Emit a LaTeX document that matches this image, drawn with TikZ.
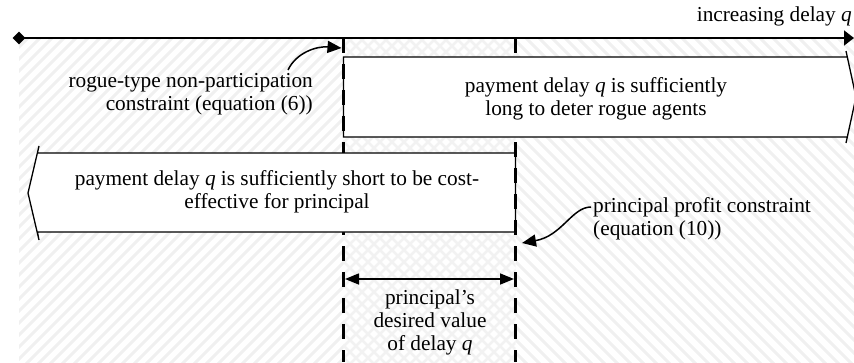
\documentclass[tikz,border=0pt]{standalone}
\usepackage{fontspec}
\setmainfont{Liberation Serif}
\usetikzlibrary{arrows.meta,shapes.geometric}
\begin{document}
\begin{tikzpicture}[x=1pt,y=-1pt,
  hatch/.style={line width=3pt, black!6},
  hatchc/.style={line width=2.5pt, black!5},
  axis/.style={line width=1.6pt},
  boxline/.style={line width=1.3pt, fill=white, line join=miter},
  guide/.style={line width=3pt, dash pattern=on 15pt off 11pt},
  lbl/.style={font=\fontsize{21.3}{23}\selectfont, inner sep=0pt},
  callout/.style={line width=1.5pt, -{Triangle[length=14pt,width=12pt]}},
  span/.style={line width=1.5pt, {Triangle[length=14pt,width=11pt]}-{Triangle[length=14pt,width=11pt]}}
]
\useasboundingbox (0,0) rectangle (854,362);

% hatched background
\begin{scope}
  \clip (19,38) rectangle (343.5,362);
  \foreach \i in {-400,-388,...,360} \draw[hatch] (\i,370) -- ++(420,-420);
\end{scope}
\begin{scope}
  \clip (343.5,38) rectangle (515.5,362);
  \foreach \i in {-100,-88,...,520} \draw[hatchc] (\i,370) -- ++(420,-420);
  \foreach \i in {-100,-88,...,520} \draw[hatchc] (\i,-50) -- ++(420,420);
\end{scope}
\begin{scope}
  \clip (515.5,38) rectangle (854,362);
  \foreach \i in {100,113,...,860} \draw[hatch] (\i,-50) -- ++(420,420);
\end{scope}

% axis
\node[diamond, fill=black, inner sep=0pt, minimum size=13pt] (start) at (19,38) {};
\coordinate (axend) at (854,38);
\draw[axis, -{Triangle[length=10pt,width=15pt]}] (start.center) -- (axend);
\node[lbl, anchor=base east] (inc) at (852,21) {increasing delay \textit{q}};

% vertical guides
\coordinate (gLt) at (343.5,38);
\coordinate (gLb) at (343.5,362);
\coordinate (gRt) at (515.5,38);
\coordinate (gRb) at (515.5,362);
\draw[guide] (gLt) -- (gLb);
\draw[guide] (gRt) -- (gRb);

% boxes
\draw[boxline] (343.5,57) -- (847.3,57) -- (846,51) -- (856,97) -- (846,143) -- (847.3,137) -- (343.5,137) -- cycle;
\draw[boxline] (515.5,153) -- (37.4,153) -- (39,146) -- (28,193) -- (39,240) -- (37.4,232) -- (515.5,232) -- cycle;

% guide segments on box edges
\coordinate (eL) at (343.5,137);
\coordinate (eRt) at (515.5,153);
\coordinate (eRb) at (515.5,232);
\draw[guide] (gLt) -- (eL);
\draw[guide, dash phase=11pt] (eRt) -- (eRb);

% box texts (base = last line)
\node[lbl, anchor=base, align=center] (long) at (596,115)
  {payment delay \textit{q} is sufficiently\\long to deter rogue agents};
\node[lbl, anchor=base, align=center] (short) at (277,208)
  {payment delay \textit{q} is sufficiently short to be cost-\\effective for principal};

% callouts
\node[lbl, anchor=base east, align=right] (rogue) at (313,110)
  {rogue-type non-participation\\constraint (equation (6))};
\coordinate (rogueTip) at (341.5,48);
\draw[callout] (288,70) .. controls (296,53) and (316,46) .. (rogueTip);

\node[lbl, anchor=base west, align=left] (profit) at (593,235)
  {principal profit constraint\\(equation (10))};
\coordinate (profitTip) at (522,243);
\draw[callout] (591,207) .. controls (572,207) and (562,236) .. (profitTip);

% desired range
\coordinate (dL) at (345,279);
\coordinate (dR) at (514,279);
\draw[span] (dL) -- (dR);
\node[lbl, anchor=base, align=center] (desired) at (430,350)
  {principal's\\desired value\\of delay \textit{q}};
\end{tikzpicture}
\end{document}
